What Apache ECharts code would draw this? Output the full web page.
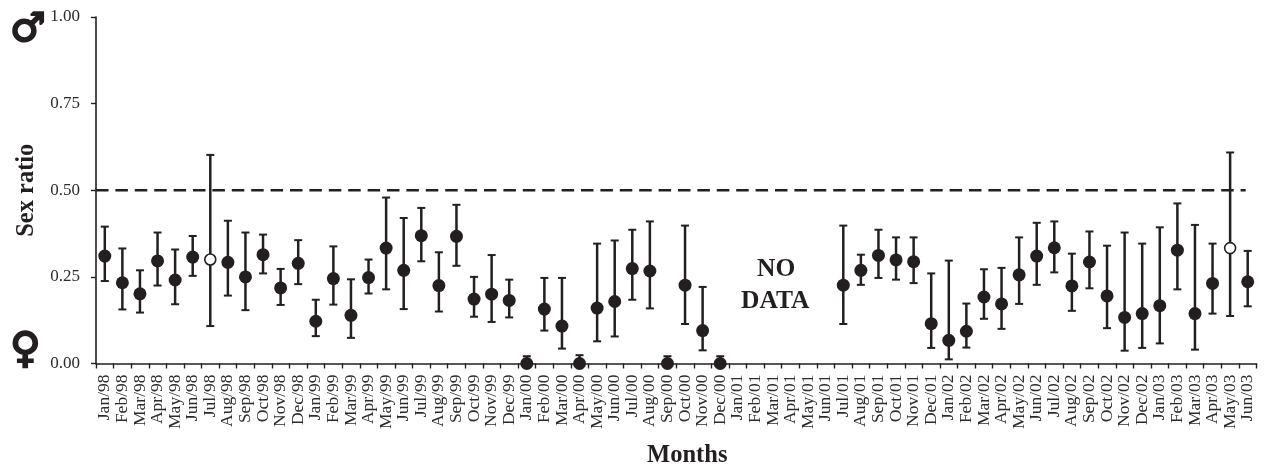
<!DOCTYPE html>
<html>
<head>
<meta charset="utf-8">
<style>html,body{margin:0;padding:0;background:#fff}#c{width:1270px;height:469px}</style>
<script src="https://cdn.jsdelivr.net/npm/echarts@6/dist/echarts.min.js"></script>
</head>
<body>
<div id="c"></div>
<script>
const months = ["Jan/98","Feb/98","Mar/98","Apr/98","May/98","Jun/98","Jul/98","Aug/98","Sep/98","Oct/98","Nov/98","Dec/98",
"Jan/99","Feb/99","Mar/99","Apr/99","May/99","Jun/99","Jul/99","Aug/99","Sep/99","Oct/99","Nov/99","Dec/99",
"Jan/00","Feb/00","Mar/00","Apr/00","May/00","Jun/00","Jul/00","Aug/00","Sep/00","Oct/00","Nov/00","Dec/00",
"Jan/01","Feb/01","Mar/01","Apr/01","May/01","Jun/01","Jul/01","Aug/01","Sep/01","Oct/01","Nov/01","Dec/01",
"Jan/02","Feb/02","Mar/02","Apr/02","May/02","Jun/02","Jul/02","Aug/02","Sep/02","Oct/02","Nov/02","Dec/02",
"Jan/03","Feb/03","Mar/03","Apr/03","May/03","Jun/03"];
const ratio = [.310,.233,.201,.296,.241,.307,.300,.292,.250,.314,.218,.289,
.122,.245,.139,.248,.333,.269,.369,.225,.367,.186,.200,.182,
0,.157,.108,0,.160,.179,.274,.267,0,.226,.095,0,
null,null,null,null,null,null,.226,.269,.312,.299,.294,.115,
.067,.093,.192,.172,.256,.310,.334,.224,.293,.195,.133,.144,
.167,.327,.144,.231,.333,.236];
const upper = [.395,.332,.269,.378,.329,.368,.602,.412,.378,.372,.273,.356,
.184,.338,.243,.300,.479,.420,.449,.321,.458,.250,.313,.242,
.021,.247,.247,.024,.346,.355,.386,.410,.021,.398,.221,.021,
null,null,null,null,null,null,.398,.314,.386,.364,.364,.260,
.297,.173,.272,.276,.364,.406,.410,.317,.381,.340,.378,.346,
.393,.462,.400,.346,.609,.325];
const lower = [.238,.156,.147,.225,.171,.253,.108,.196,.154,.260,.169,.229,
.079,.170,.074,.202,.214,.157,.295,.150,.282,.135,.120,.133,
0,.095,.043,0,.064,.078,.184,.159,0,.114,.038,0,
null,null,null,null,null,null,.114,.227,.247,.242,.232,.045,
.012,.046,.129,.100,.172,.227,.263,.152,.217,.102,.037,.045,
.058,.214,.040,.144,.137,.165];
const openMonths = ["Jul/98","May/03"];
const parity = [0.5];
const yTicks = {min:0,max:1,interval:0.25};

const INK = "#231f20";
const SERIF = '"Liberation Serif","Times New Roman",serif';

const filled = months.map((m,i)=> openMonths.includes(m) ? [m,null] : [m,ratio[i]]);
const open = months.map((m,i)=> openMonths.includes(m) ? [m,ratio[i]] : [m,null]);
const bars = months.map((m,i)=>[i,lower[i],upper[i]]).filter(d=>d[1]!==null);

const chart = echarts.init(document.getElementById("c"),null,{renderer:"canvas"});
chart.setOption({
  animation:false,
  backgroundColor:"#ffffff",
  grid:{left:96,right:13.5,top:17,bottom:105.5,outerBoundsMode:"none",containLabel:false},
  xAxis:{
    type:"category",data:months,boundaryGap:true,
    name:"Months",nameLocation:"middle",nameGap:80,
    nameTextStyle:{fontFamily:SERIF,fontWeight:"bold",fontSize:24.5,color:INK,padding:[0,0,0,22]},
    axisLine:{lineStyle:{color:INK,width:1.6}},
    axisTick:{show:true,alignWithLabel:false,interval:0,length:5,lineStyle:{color:INK,width:1.4}},
    axisLabel:{interval:0,rotate:90,margin:11,fontFamily:SERIF,fontSize:17.5,color:"#2c2a2b",hideOverlap:false},
    splitLine:{show:false}
  },
  yAxis:{
    type:"value",min:yTicks.min,max:yTicks.max,interval:yTicks.interval,
    name:"Sex ratio",nameLocation:"middle",nameGap:57,nameRotate:90,
    nameTextStyle:{fontFamily:SERIF,fontWeight:"bold",fontSize:24.5,color:INK},
    axisLine:{show:true,lineStyle:{color:INK,width:1.6}},
    axisTick:{show:true,length:5,lineStyle:{color:INK,width:1.4}},
    axisLabel:{margin:16,fontFamily:SERIF,fontSize:17,color:"#2c2a2b",formatter:v=>v.toFixed(2)},
    splitLine:{show:false}
  },
  series:[
    {type:"custom",z:2,silent:true,data:parity.map(v=>[v]),
     renderItem(params,api){
       const y=api.coord([0,api.value(0)])[1];
       const x1=params.coordSys.x;
       const x2=api.coord([months.length-1,api.value(0)])[0]-2;
       return {type:"line",shape:{x1,y1:y,x2,y2:y},
         style:{stroke:INK,lineWidth:2.4,lineDash:[12.5,6.9]}};
     }},
    {type:"custom",z:3,silent:true,data:bars,
     encode:{x:0,y:[1,2]},
     renderItem(params,api){
       const x=api.coord([api.value(0),0])[0];
       const lo=api.coord([api.value(0),api.value(1)])[1];
       const hi=api.coord([api.value(0),api.value(2)])[1];
       const s={stroke:INK,lineWidth:2.5};
       const s2={stroke:INK,lineWidth:2};
       return {type:"group",children:[
         {type:"line",shape:{x1:x,y1:lo,x2:x,y2:hi},style:s},
         {type:"line",shape:{x1:x-4,y1:hi,x2:x+4,y2:hi},style:s2},
         {type:"line",shape:{x1:x-4,y1:lo,x2:x+4,y2:lo},style:s2}
       ]};
     }},
    {type:"scatter",z:5,clip:false,silent:true,symbol:"circle",symbolSize:13,
     data:filled,itemStyle:{color:INK,opacity:1}},
    {type:"scatter",z:5,clip:false,silent:true,symbol:"circle",symbolSize:11,
     data:open,itemStyle:{color:"#ffffff",borderColor:INK,borderWidth:1.6,opacity:1}}
  ],
  graphic:[
    {type:"text",z:10,left:757,top:256,
     style:{text:"NO",font:'bold 25.5px "Liberation Serif"',fill:INK}},
    {type:"text",z:10,left:741,top:288,
     style:{text:"DATA",font:'bold 25.5px "Liberation Serif"',fill:INK}},
    {type:"text",z:10,left:9,top:10,
     style:{text:"\u2642",font:'bold 40px "DejaVu Sans"',fill:INK,stroke:INK,lineWidth:2}},
    {type:"text",z:10,left:9,top:329,
     style:{text:"\u2640",font:'bold 42px "DejaVu Sans"',fill:INK,stroke:INK,lineWidth:2}}
  ]
});
</script>
</body>
</html>
